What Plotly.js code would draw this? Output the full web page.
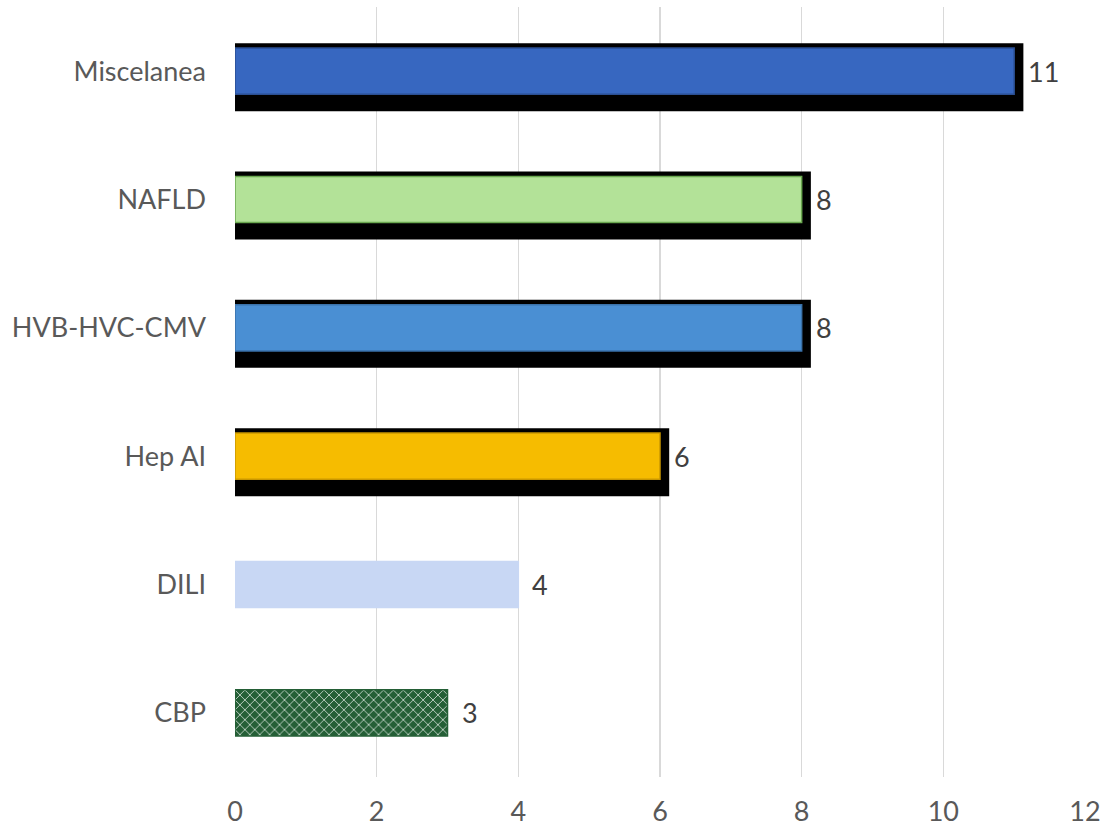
<!DOCTYPE html>
<html>
<head>
<meta charset="utf-8">
<script src="https://cdn.plot.ly/plotly-3.0.1.min.js"></script>
<style>html,body{margin:0;padding:0;background:#fff;}#chart{width:1104px;height:832px;}</style>
</head>
<body>
<div id="chart"></div>
<script>
// Data (top to bottom)
const categories = ["Miscelanea", "NAFLD", "HVB-HVC-CMV", "Hep AI", "DILI", "CBP"];
const values = [11, 8, 8, 6, 4, 3];
const hasShadow = [true, true, true, true, false, false];
const barColors = ["#3767c0", "#b3e298", "#4a8fd3", "#f6bc00", "#c8d7f4", "#245f36"];
const barLines = ["#2b4f92", "#6aa84f", "#3a72aa", "#c99700", "#c8d7f4", "#245f36"];
const tickVals = [0, 2, 4, 6, 8, 10, 12];

const shadowDx = 0.13;
const shadowX = values.map((v, i) => hasShadow[i] ? v + shadowDx : null);

const fontFam = "Lato, 'Open Sans', sans-serif";

const shadow = {
  type: "bar", orientation: "h",
  y: categories, x: shadowX,
  width: 0.53, offset: -0.218,
  marker: { color: "#000000", line: { width: 0 } },
  hoverinfo: "skip", showlegend: false
};

const main = {
  type: "bar", orientation: "h",
  y: categories, x: values,
  width: 0.36, offset: -0.18,
  marker: {
    color: barColors,
    line: { color: barLines, width: 1.5 },
    pattern: {
      shape: ["", "", "", "", "", "x"],
      fgcolor: "#3f7d4e",
      fgopacity: 0.7,
      size: 7,
      solidity: 0.25,
      fillmode: "overlay"
    }
  },
  showlegend: false
};

const annotations = categories.map((c, i) => ({
  x: values[i], y: c, xref: "x", yref: "y",
  text: String(values[i]), showarrow: false,
  xanchor: "left", yanchor: "middle", xshift: 12,
  font: { family: fontFam, size: 27, color: "#404040" }
}));

const layout = {
  width: 1104, height: 832,
  margin: { l: 235, r: 19, t: 7, b: 55 },
  paper_bgcolor: "#ffffff", plot_bgcolor: "#ffffff",
  barmode: "overlay",
  xaxis: {
    range: [0, 12], tickvals: tickVals, ticktext: tickVals.map(String),
    showgrid: true, gridcolor: "#d9d9d9", gridwidth: 1.5,
    zeroline: false, showline: false, ticks: "",
    ticklabelstandoff: 16,
    tickfont: { family: fontFam, size: 27, color: "#595959" }
  },
  yaxis: {
    type: "category", range: [5.5, -0.5],
    showgrid: false, zeroline: false, showline: false, ticks: "",
    ticklabelstandoff: 28,
    tickfont: { family: fontFam, size: 27, color: "#595959" }
  },
  annotations: annotations
};

Plotly.newPlot("chart", [shadow, main], layout, { displayModeBar: false, staticPlot: true });
</script>
</body>
</html>
